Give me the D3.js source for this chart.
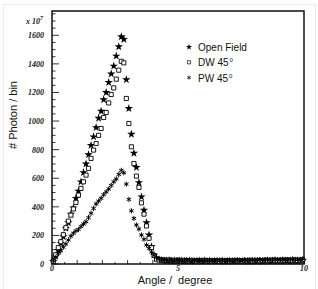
<!DOCTYPE html>
<html>
<head>
<meta charset="utf-8">
<script src="https://cdn.jsdelivr.net/npm/d3@7"></script>
<style>
  body { margin: 0; background: #fff; }
  svg { display: block; }
</style>
</head>
<body>
<script>
// bins of 0.1 degree, 0 .. 10
var binWidth = 0.1
var binCentres = d3.range(100).map(i => +(binWidth * i + binWidth / 2).toFixed(2))

// peak region (units of 1e7 photons / bin)
var openField = [18, 55, 95, 145, 191, 250, 289, 349, 393, 460, 510, 575, 640, 700, 765, 830, 890, 955, 1020, 1069,
  1150, 1200, 1270, 1330, 1385, 1455, 1520, 1590, 1572, 1290, 1088, 908, 775, 676, 570, 470, 377, 289, 203, 121,
  62, 38, 30]
var dw45 = [20, 65, 114, 156, 205, 254, 300, 342, 385, 431, 482, 529, 575, 622, 669, 739, 797, 843, 900, 948,
  1025, 1060, 1127, 1186, 1232, 1293, 1356, 1418, 1407, 1158, 983, 820, 703, 615, 536, 428, 349, 266, 180, 115,
  60, 35, 28]
var pw45 = [23, 47, 75, 92, 118, 140, 168, 195, 215, 232, 242, 262, 280, 296, 325, 355, 389, 420, 440, 460,
  485, 505, 525, 550, 575, 595, 627, 655, 638, 559, 452, 372, 319, 273, 245, 203, 173, 133, 110, 85,
  62, 45, 35]

// flat tail 4.3 .. 10 degree
var openFieldTail = [26, 24, 22, 25, 21, 23, 20, 22, 24, 19, 21, 23, 20, 18, 22, 21, 19, 23, 20, 22,
  18, 21, 20, 19, 22, 17, 20, 21, 18, 19, 22, 20, 18, 21, 19, 17, 20, 22, 19, 21,
  18, 20, 23, 19, 21, 24, 20, 22, 19, 23, 21, 20, 24, 22, 19, 23, 25]
var dw45Tail = [30, 27, 25, 28, 24, 26, 23, 25, 22, 26, 24, 21, 25, 23, 20, 24, 22, 25, 21, 23,
  20, 24, 22, 19, 23, 21, 24, 20, 22, 25, 21, 23, 20, 24, 22, 26, 21, 23, 25, 22,
  24, 27, 23, 25, 28, 24, 26, 23, 27, 25, 29, 24, 26, 28, 25, 27, 30]
var pw45Tail = [30, 27, 28, 25, 27, 24, 26, 28, 23, 25, 27, 24, 22, 26, 24, 27, 23, 25, 22, 26,
  24, 21, 25, 23, 27, 24, 22, 26, 25, 23, 28, 24, 26, 29, 25, 27, 30, 26, 28, 31,
  27, 29, 32, 28, 30, 33, 29, 31, 34, 30, 28, 32, 35, 31, 33, 30, 34]

var seriesNames = ['Open Field', 'DW 45', 'PW 45']
var seriesSymbols = [d3.symbolStar, d3.symbolSquare, d3.symbolAsterisk]
var seriesValues = [openField.concat(openFieldTail), dw45.concat(dw45Tail), pw45.concat(pw45Tail)]

var xTicksMajor = [0, 5, 10]
var yTicksMajor = [0, 200, 400, 600, 800, 1000, 1200, 1400, 1600]

var width = 318, height = 289
var plot = {left: 52, right: 304, top: 11, bottom: 264}

var svg = d3.select('body').append('svg')
  .attr('width', width)
  .attr('height', height)

// faint outer frame
svg.append('rect')
  .attr('x', 3.5).attr('y', 4.5)
  .attr('width', 312).attr('height', 290)
  .attr('fill', 'none')
  .attr('stroke', '#ececec')

var x = d3.scaleLinear().domain([0, 10]).range([plot.left, plot.right])
var y = d3.scaleLinear().domain([0, 1770]).range([plot.bottom, plot.top])

// ticks drawn inside the frame, root style
var tickFont = 'Liberation Serif, serif'
var gx = svg.append('g').attr('transform', `translate(0,${plot.bottom})`)
gx.selectAll('line.minor').data(d3.range(0, 10.01, 0.5)).join('line')
  .attr('x1', d => x(d)).attr('x2', d => x(d))
  .attr('y1', 0).attr('y2', d => d % 5 === 0 ? -7 : (d % 1 === 0 ? -4 : -2))
  .attr('stroke', '#000').attr('stroke-width', 0.8)
gx.selectAll('text').data(xTicksMajor).join('text')
  .attr('x', d => x(d)).attr('y', 7)
  .attr('text-anchor', 'middle')
  .attr('font-family', tickFont).attr('font-style', 'italic').attr('font-weight', 'bold')
  .attr('font-size', 8).attr('fill', '#222')
  .text(d => d)

var gy = svg.append('g').attr('transform', `translate(${plot.left},0)`)
gy.selectAll('line').data(d3.range(0, 1751, 50)).join('line')
  .attr('x1', 0).attr('x2', d => d % 200 === 0 ? 7 : 3.5)
  .attr('y1', d => y(d)).attr('y2', d => y(d))
  .attr('stroke', '#000').attr('stroke-width', 0.8)
gy.selectAll('text').data(yTicksMajor).join('text')
  .attr('x', -8).attr('y', d => y(d) + 3)
  .attr('text-anchor', 'end')
  .attr('font-family', tickFont).attr('font-style', 'italic').attr('font-weight', 'bold')
  .attr('font-size', 8).attr('fill', '#222')
  .text(d => d)

// x 10^7 multiplier
var mult = svg.append('text')
  .attr('x', 26).attr('y', 24)
  .attr('font-family', tickFont).attr('font-style', 'italic').attr('font-weight', 'bold')
  .attr('font-size', 8).attr('fill', '#222')
mult.append('tspan').text('x 10')
mult.append('tspan').attr('dy', -4).attr('font-size', 6).text('7')

// frame
svg.append('rect')
  .attr('x', plot.left).attr('y', plot.top)
  .attr('width', plot.right - plot.left).attr('height', plot.bottom - plot.top)
  .attr('fill', 'none').attr('stroke', '#111').attr('stroke-width', 1.5)

// markers
var symbolSizes = [22, 17, 18]
seriesValues.forEach((vals, s) => {
  var sym = d3.symbol().type(seriesSymbols[s]).size(symbolSizes[s])
  svg.append('g').selectAll('path').data(vals).join('path')
    .attr('transform', (d, i) => `translate(${x(binCentres[i])},${y(d)})`)
    .attr('d', sym())
    .attr('fill', s === 0 ? '#000' : (s === 1 ? '#fff' : 'none'))
    .attr('stroke', s === 0 ? 'none' : '#000')
    .attr('stroke-width', s === 1 ? 0.9 : 1)
})

// legend
var legend = svg.append('g').attr('transform', 'translate(189,47)')
seriesNames.forEach((name, s) => {
  var row = legend.append('g').attr('transform', `translate(0,${s * 15.3})`)
  row.append('path')
    .attr('d', d3.symbol().type(seriesSymbols[s]).size(s === 1 ? 10 : 12)())
    .attr('fill', s === 0 ? '#000' : (s === 1 ? '#fff' : 'none'))
    .attr('stroke', s === 0 ? 'none' : '#000')
    .attr('stroke-width', 0.7)
  var t = row.append('text')
    .attr('x', 9).attr('y', 4)
    .attr('font-family', 'Liberation Sans, Arial, sans-serif')
    .attr('font-size', 10).attr('fill', '#111')
  t.append('tspan').text(name)
  if (s > 0) t.append('tspan').attr('dy', -4).attr('dx', 1).attr('font-size', 6).text('0')
})

// axis titles
svg.append('text')
  .attr('x', 175).attr('y', 284)
  .attr('text-anchor', 'middle')
  .attr('font-family', 'Liberation Sans, Arial, sans-serif')
  .attr('font-size', 11).attr('fill', '#111')
  .attr('xml:space', 'preserve')
  .text('Angle /  degree')

svg.append('text')
  .attr('transform', 'translate(17,115) rotate(-90)')
  .attr('text-anchor', 'middle')
  .attr('font-family', 'Liberation Sans, Arial, sans-serif')
  .attr('font-size', 11).attr('fill', '#111')
  .text('# Photon / bin')
</script>
</body>
</html>
